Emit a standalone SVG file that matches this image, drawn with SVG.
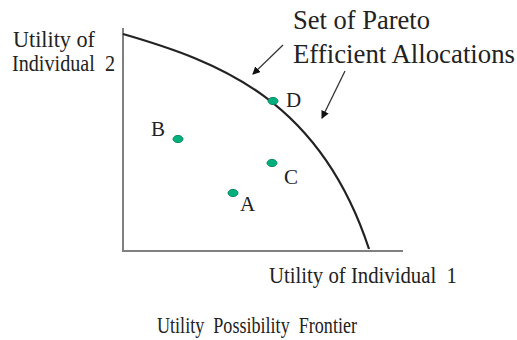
<svg xmlns="http://www.w3.org/2000/svg" width="517" height="340" viewBox="0 0 517 340" font-family="'Liberation Serif', 'Times New Roman', 'DejaVu Serif', serif">
<defs>
<style>
text{font-family:'Liberation Serif','Times New Roman','DejaVu Serif',serif;fill:#222}
.axis{stroke:#808080;stroke-width:2;fill:none}
.curve{stroke:#222;stroke-width:2.2;fill:none}
.ptr{stroke:#333;stroke-width:1.3;fill:none;marker-end:url(#ah)}
.dot{fill:#00b07c;stroke:#0a8a60;stroke-width:1}
.lbl{font-size:21px}
.big{font-size:27px}
.ax{font-size:22.5px}
.cap{font-size:24px}
</style>
<marker id="ah" markerWidth="10" markerHeight="10" refX="7" refY="4" orient="auto" markerUnits="userSpaceOnUse">
<path d="M0,0 L8,4 L0,8 Z" fill="#111"/>
</marker>
</defs>
<rect width="517" height="340" fill="#fff"/>
<g id="axes">
<path class="axis" d="M123,28 L123,251 L403,251"/>
</g>
<g id="frontier">
<path class="curve" d="M123,34 C220,62 320,100 369,249"/>
</g>
<g id="connectors">
<path class="ptr" d="M283,45 L253,74"/>
<path class="ptr" d="M345,71 L322,118"/>
</g>
<g id="title-label">
<text class="big" x="293" y="29" textLength="137" lengthAdjust="spacingAndGlyphs">Set of Pareto</text>
<text class="big" x="293" y="63" textLength="222" lengthAdjust="spacingAndGlyphs">Efficient Allocations</text>
</g>
<g id="y-label">
<text class="ax" x="13" y="47" textLength="82" lengthAdjust="spacingAndGlyphs">Utility of</text>
<text class="ax" x="12" y="71" textLength="103" lengthAdjust="spacingAndGlyphs" xml:space="preserve">Individual  2</text>
</g>
<g id="x-label">
<text class="ax" x="269" y="283" textLength="188" lengthAdjust="spacingAndGlyphs" xml:space="preserve">Utility of Individual  1</text>
</g>
<g id="point-A">
<ellipse class="dot" cx="233" cy="193" rx="5" ry="3.6"/>
<text class="lbl" x="240" y="211">A</text>
</g>
<g id="point-B">
<ellipse class="dot" cx="178" cy="139" rx="5" ry="3.6"/>
<text class="lbl" x="151" y="136">B</text>
</g>
<g id="point-C">
<ellipse class="dot" cx="272" cy="163" rx="5" ry="3.6"/>
<text class="lbl" x="284" y="184">C</text>
</g>
<g id="point-D">
<ellipse class="dot" cx="273" cy="101" rx="5" ry="3.6"/>
<text class="lbl" x="286" y="107">D</text>
</g>
<g id="caption">
<text class="cap" x="157" y="333" textLength="200" lengthAdjust="spacingAndGlyphs" xml:space="preserve">Utility  Possibility  Frontier</text>
</g>
</svg>
